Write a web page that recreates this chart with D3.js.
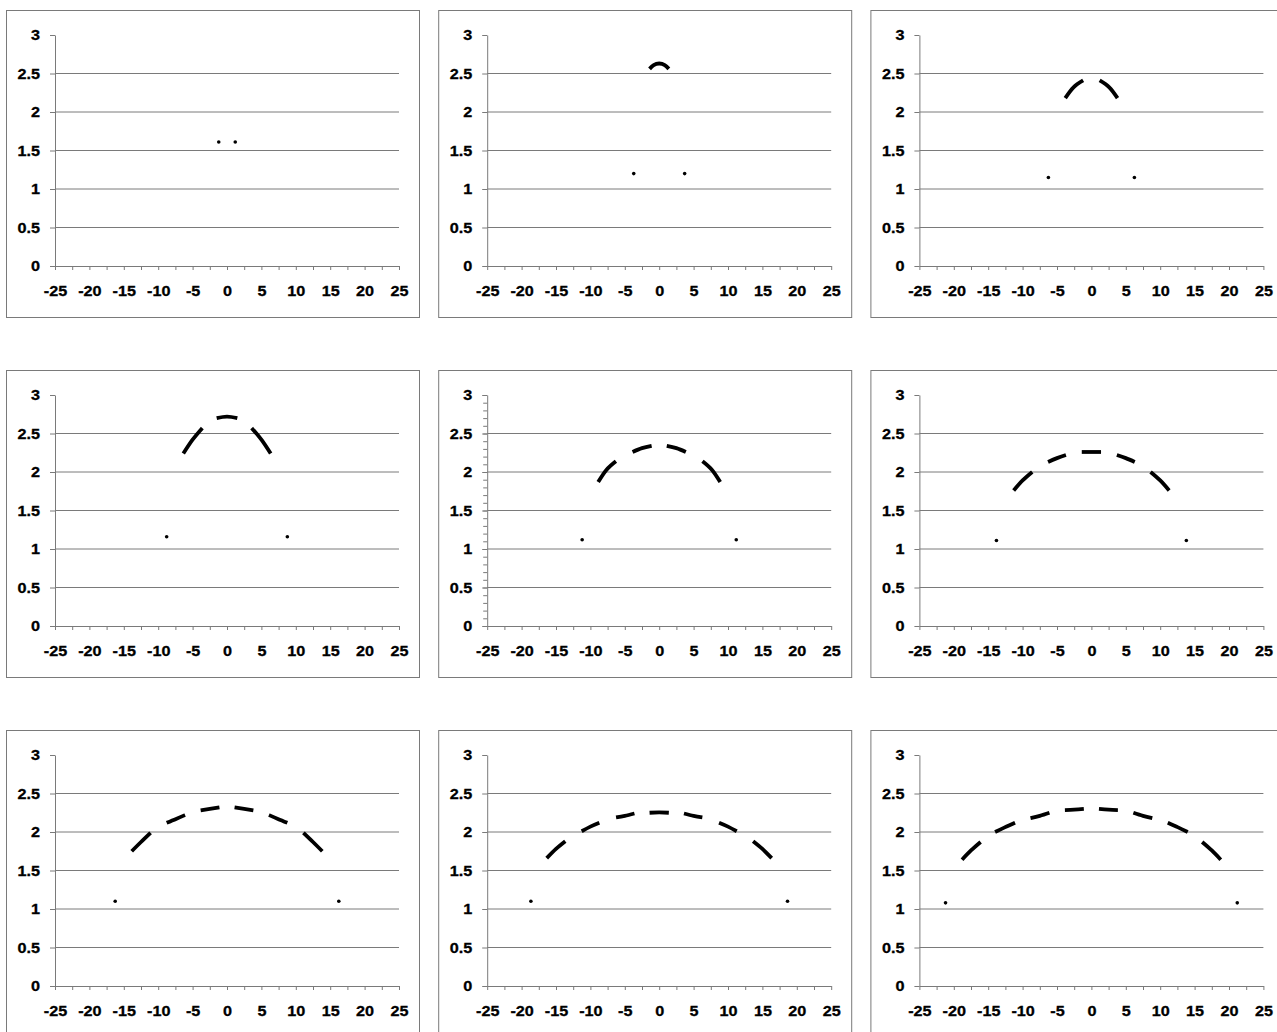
<!DOCTYPE html>
<html>
<head>
<meta charset="utf-8">
<script src="https://cdn.jsdelivr.net/npm/d3@7"></script>
<style>
  body { margin: 0; background: #fff; }
  svg { display: block; }
  .tick text { font-family: "Liberation Sans", Arial, sans-serif; font-weight: bold; font-size: 15px; fill: #000; stroke: #000; stroke-width: 0.3px; }
</style>
</head>
<body>
<div id="chart"></div>
<script>
// tick labels
var xTicks = [-25, -20, -15, -10, -5, 0, 5, 10, 15, 20, 25];
var xMinorTicks = [-22.5, -17.5, -12.5, -7.5, -2.5, 2.5, 7.5, 12.5, 17.5, 22.5];
var yTicks = [0, 0.5, 1, 1.5, 2, 2.5, 3];
var yGrid = [0.5, 1, 1.5, 2, 2.5];

// single points in each panel
var dots1 = [[-1.2, 1.61], [1.2, 1.61]];
var dots2 = [[-3.7, 1.2], [3.7, 1.2]];
var dots3 = [[-6.25, 1.15], [6.25, 1.15]];
var dots4 = [[-8.77, 1.16], [8.77, 1.16]];
var dots5 = [[-11.2, 1.12], [11.2, 1.12]];
var dots6 = [[-13.8, 1.11], [13.8, 1.11]];
var dots7 = [[-16.25, 1.1], [16.25, 1.1]];
var dots8 = [[-18.65, 1.1], [18.65, 1.1]];
var dots9 = [[-21.2, 1.08], [21.2, 1.08]];

// arc pieces in each panel
var arcs1 = [];
var arcs2 = [
  [[-1.4, 2.56], [-0.8, 2.61], [0, 2.63], [0.8, 2.61], [1.4, 2.56]]
];
var arcs3 = [
  [[-3.8, 2.18], [-2.6, 2.32], [-1.2, 2.41]],
  [[1.2, 2.41], [2.6, 2.32], [3.8, 2.18]]
];
var arcs4 = [
  [[-6.35, 2.24], [-5.0, 2.42], [-3.6, 2.57]],
  [[-1.5, 2.70], [0, 2.72], [1.5, 2.70]],
  [[3.6, 2.57], [5.0, 2.42], [6.35, 2.24]]
];
var arcs5 = [
  [[-8.87, 1.87], [-7.65, 2.03], [-6.29, 2.14]],
  [[-3.87, 2.26], [-2.5, 2.31], [-1.1, 2.34]],
  [[1.1, 2.34], [2.5, 2.31], [3.87, 2.26]],
  [[6.29, 2.14], [7.65, 2.03], [8.87, 1.87]]
];
var arcs6 = [
  [[-11.3, 1.76], [-10.0, 1.89], [-8.6, 2.0]],
  [[-6.3, 2.13], [-5.0, 2.18], [-3.7, 2.22]],
  [[-1.4, 2.26], [0, 2.26], [1.4, 2.26]],
  [[3.7, 2.22], [5.0, 2.18], [6.3, 2.13]],
  [[8.6, 2.0], [10.0, 1.89], [11.3, 1.76]]
];
var arcs7 = [
  [[-13.85, 1.75], [-12.5, 1.87], [-11.1, 1.99]],
  [[-8.77, 2.12], [-7.4, 2.17], [-6.1, 2.22]],
  [[-3.83, 2.28], [-2.5, 2.30], [-1.1, 2.32]],
  [[1.1, 2.32], [2.5, 2.30], [3.83, 2.28]],
  [[6.1, 2.22], [7.4, 2.17], [8.77, 2.12]],
  [[11.1, 1.99], [12.5, 1.87], [13.85, 1.75]]
];
var arcs8 = [
  [[-16.35, 1.66], [-15.0, 1.78], [-13.65, 1.88]],
  [[-11.27, 2.01], [-10.0, 2.07], [-8.7, 2.12]],
  [[-6.27, 2.19], [-5.0, 2.21], [-3.6, 2.24]],
  [[-1.4, 2.25], [0, 2.255], [1.4, 2.25]],
  [[3.6, 2.24], [5.0, 2.21], [6.27, 2.19]],
  [[8.7, 2.12], [10.0, 2.07], [11.27, 2.01]],
  [[13.65, 1.88], [15.0, 1.78], [16.35, 1.66]]
];
var arcs9 = [
  [[-18.8, 1.64], [-17.5, 1.76], [-16.1, 1.87]],
  [[-14.0, 2.0], [-12.6, 2.06], [-11.1, 2.12]],
  [[-8.85, 2.18], [-7.5, 2.21], [-6.1, 2.25]],
  [[-3.85, 2.285], [-2.5, 2.29], [-1.1, 2.30]],
  [[1.1, 2.30], [2.5, 2.29], [3.85, 2.285]],
  [[6.1, 2.25], [7.5, 2.21], [8.85, 2.18]],
  [[11.1, 2.12], [12.6, 2.06], [14.0, 2.0]],
  [[16.1, 1.87], [17.5, 1.76], [18.8, 1.64]]
];

var panels = [
  {dots: dots1, arcs: arcs1, minorY: false},
  {dots: dots2, arcs: arcs2, minorY: false},
  {dots: dots3, arcs: arcs3, minorY: false},
  {dots: dots4, arcs: arcs4, minorY: false},
  {dots: dots5, arcs: arcs5, minorY: true},
  {dots: dots6, arcs: arcs6, minorY: false},
  {dots: dots7, arcs: arcs7, minorY: false},
  {dots: dots8, arcs: arcs8, minorY: false},
  {dots: dots9, arcs: arcs9, minorY: false}
];

var width = 1277, height = 1032;
var grey = '#7a7a7a';

var svg = d3.select('#chart').append('svg')
    .attr('width', width)
    .attr('height', height);

// labels in the picture are a little wider than the font
function stretch(sel) {
    sel.selectAll('.tick text').each(function () {
        var w = this.getComputedTextLength();
        d3.select(this).attr('textLength', w * 1.08).attr('lengthAdjust', 'spacingAndGlyphs');
    });
}

panels.forEach(function (p, i) {
    var col = i % 3, row = Math.floor(i / 3);
    var g = svg.append('g')
        .attr('transform', 'translate(' + (6 + col * 432.2) + ',' + (10 + row * 360) + ')');

    g.append('rect')
        .attr('x', 0.5).attr('y', 0.5)
        .attr('width', 413).attr('height', 307)
        .attr('fill', '#fff')
        .attr('stroke', grey);

    var x = d3.scaleLinear().domain([-25, 25]).range([49, 393]);
    var y = d3.scaleLinear().domain([0, 3]).range([256, 25]);

    g.selectAll('.grid')
        .data(yGrid)
        .enter()
        .append('line')
        .attr('class', 'grid')
        .attr('x1', x(-25)).attr('x2', x(25))
        .attr('y1', function (d) { return y(d); })
        .attr('y2', function (d) { return y(d); })
        .attr('stroke', grey);

    if (p.minorY) {
        g.append('g')
            .attr('transform', 'translate(' + x(-25) + ',0)')
            .call(d3.axisLeft(y).tickValues(d3.range(0, 3.001, 0.1)).tickSize(4).tickSizeOuter(0).tickFormat(''))
            .call(function (a) { a.select('.domain').remove(); a.selectAll('line').attr('stroke', grey); });
    }

    var xMinor = g.append('g')
        .attr('transform', 'translate(0,' + y(0) + ')')
        .call(d3.axisBottom(x).tickValues(xMinorTicks).tickSize(4).tickSizeOuter(0).tickFormat(''));
    xMinor.select('.domain').remove();
    xMinor.selectAll('line').attr('stroke', grey);

    var xAxis = g.append('g')
        .attr('transform', 'translate(0,' + y(0) + ')')
        .call(d3.axisBottom(x).tickValues(xTicks).tickSize(4).tickSizeOuter(0).tickPadding(15)
            .tickFormat(function (d) { return String(d); }));
    xAxis.select('.domain').attr('stroke', grey);
    xAxis.selectAll('line').attr('stroke', grey);
    stretch(xAxis);

    var yAxis = g.append('g')
        .attr('transform', 'translate(' + x(-25) + ',0)')
        .call(d3.axisLeft(y).tickValues(yTicks).tickSize(5).tickSizeOuter(0).tickPadding(10)
            .tickFormat(function (d) { return String(d); }));
    yAxis.select('.domain').attr('stroke', grey);
    yAxis.selectAll('line').attr('stroke', grey);
    stretch(yAxis);

    var line = d3.line()
        .x(function (d) { return x(d[0]); })
        .y(function (d) { return y(d[1]); })
        .curve(d3.curveNatural);

    g.selectAll('.arc')
        .data(p.arcs)
        .enter()
        .append('path')
        .attr('class', 'arc')
        .attr('d', line)
        .attr('fill', 'none')
        .attr('stroke', '#000')
        .attr('stroke-width', 3.8)
        .attr('stroke-linecap', 'butt');

    g.selectAll('.dot')
        .data(p.dots)
        .enter()
        .append('circle')
        .attr('class', 'dot')
        .attr('cx', function (d) { return x(d[0]); })
        .attr('cy', function (d) { return y(d[1]); })
        .attr('r', 1.8)
        .attr('fill', '#000');
});
</script>
</body>
</html>
